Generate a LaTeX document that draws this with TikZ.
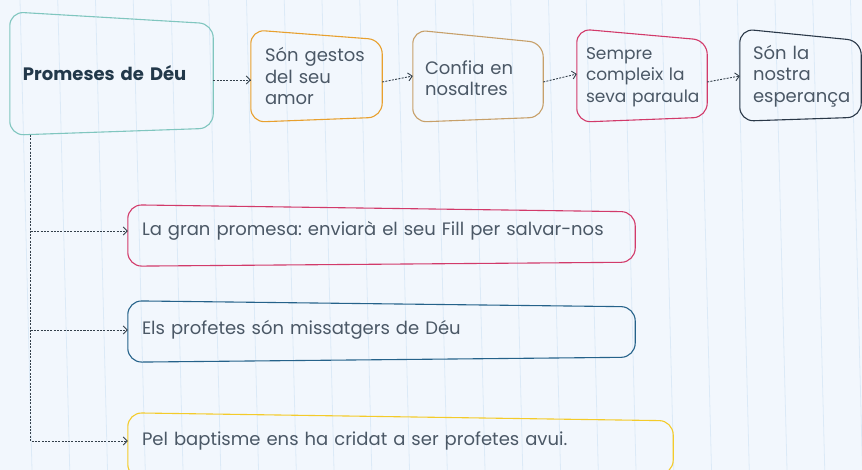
\documentclass[tikz,border=0pt]{standalone}
\usepackage{fontspec}
\setmainfont{Poppins}
\usepackage{xcolor}
\usetikzlibrary{arrows.meta, calc}
\frenchspacing
\hyphenpenalty=10000
\definecolor{paper}{HTML}{F2F7FD}
\definecolor{ruling}{HTML}{DCEAF7}
\definecolor{ink}{HTML}{4B5866}
\definecolor{title}{HTML}{22384A}
\definecolor{wire}{HTML}{34404B}
\definecolor{teal}{HTML}{80C6BF}
\definecolor{amber}{HTML}{E8A02E}
\definecolor{tan}{HTML}{C7A06A}
\definecolor{rose}{HTML}{D23A6A}
\definecolor{navy}{HTML}{2A3848}
\definecolor{sea}{HTML}{25628A}
\definecolor{sun}{HTML}{F4CB2A}
\tikzstyle{card} = [rectangle, draw=none, inner xsep=14pt, align=left, text=ink, font=\fontsize{18}{21.3}\selectfont]
\tikzstyle{link} = [->, >={Straight Barb[length=4pt,width=8pt]}, dash pattern=on 2pt off 1.3pt, line width=0.9pt, draw=wire]
\tikzstyle{rule} = [ruling, line width=0.8pt]
% outline of a card, tilted a little: node, colour, then the drop of each corner
\newcommand{\cardline}[6]{\draw[#2, line width=1.1pt, rounded corners=14pt] ($(#1.north west)+(0,#3)$) -- ($(#1.north east)+(0,#4)$) -- ($(#1.south east)+(0,#5)$) -- ($(#1.south west)+(0,#6)$) -- cycle;}

\begin{document}
\begin{tikzpicture}[x=1pt, y=-1pt]
    \useasboundingbox (0,0) rectangle (862,470);
    \clip (0,0) rectangle (862,470);
    \fill[paper] (0,0) rectangle (862,470);
    \foreach \k in {-1,...,22}
        \draw[rule] (20+37.75*\k,0) -- ++(12,470);

    \node (main) [card, text width=177pt, inner xsep=13pt, minimum height=123pt, text=title, font=\fontsize{18}{21.3}\selectfont\bfseries] at (111.5,73.5) {Promeses de Déu};
    \node (gestos) [card, text width=103pt, minimum height=92pt] at (316.5,76) {Són gestos\\del seu\\amor};
    \node (confia) [card, text width=106pt, inner xsep=12pt, minimum height=92pt] at (478,78) {Confia en\\nosaltres};
    \node (sempre) [card, text width=112pt, inner xsep=9pt, minimum height=93pt, font=\fontsize{17}{21.3}\selectfont] at (642,77) {Sempre\\compleix~la\\seva~paraula};
    \node (esperanca) [card, text width=95pt, inner xsep=13pt, minimum height=92pt] at (800.5,76) {Són la\\nostra\\esperança};
    \node (promesa) [card, text width=479pt, minimum height=52pt] at (381.5,231) {La gran promesa: enviarà el seu Fill per salvar-nos};
    \node (profetes) [card, text width=479pt, minimum height=58pt] at (381.5,330) {Els profetes són missatgers de Déu};
    \node (baptisme) [card, text width=517pt, minimum height=56pt] at (400.5,441) {Pel baptisme ens ha cridat a ser profetes avui.};

    \cardline{main}{teal}{0}{12}{-7}{0}
    \cardline{gestos}{amber}{0}{10}{-5}{0}
    \cardline{confia}{tan}{-2}{11}{-7}{-2}
    \cardline{sempre}{rose}{-1.5}{10}{-6.5}{-1.5}
    \cardline{esperanca}{navy}{-1}{11}{-5}{-1}
    \cardline{promesa}{rose}{0}{7}{5}{9}
    \cardline{profetes}{sea}{0}{6}{-2}{3}
    \cardline{baptisme}{sun}{0}{8}{5}{9}

    \draw[link] ([yshift=-6.5pt]main.east) -- ([yshift=-4pt]gestos.west);
    \draw[link] ([yshift=-6pt]gestos.east) -- ([yshift=2pt]confia.west);
    \draw[link] ([yshift=-4pt]confia.east) -- ([yshift=3pt]sempre.west);
    \draw[link] ([yshift=-5pt]sempre.east) -- (esperanca.west);
    \draw[link] ([xshift=21pt]main.south west) |- (promesa.west);
    \draw[link] ([xshift=21pt]main.south west) |- (profetes.west);
    \draw[link] ([xshift=21pt]main.south west) |- (baptisme.west);
\end{tikzpicture}
\end{document}
